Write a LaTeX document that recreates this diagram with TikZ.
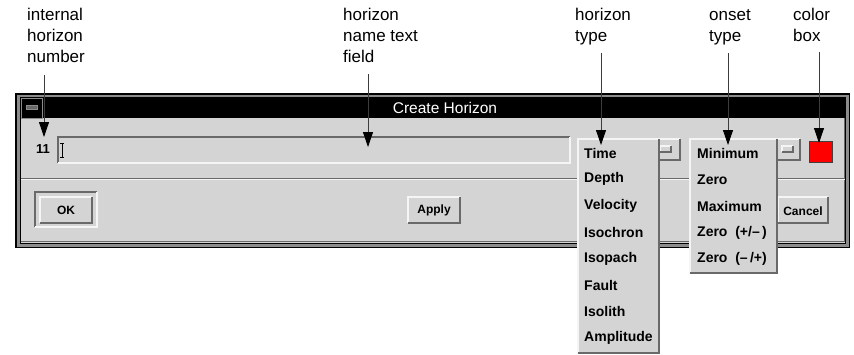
\documentclass[tikz,border=0pt]{standalone}
\usepackage{fontspec}
\setmainfont{Liberation Sans}
\usetikzlibrary{arrows.meta}
\definecolor{guibg}{RGB}{212,212,212}
\definecolor{guidark}{RGB}{105,105,105}
\definecolor{guilight}{RGB}{245,245,245}
\definecolor{guiframe}{RGB}{140,140,140}
\definecolor{arrline}{RGB}{60,60,60}
\newcommand{\guibevel}[6]{%
  \fill[guibg] (#1,#2) rectangle (#3,#4);
  \draw[#5,line width=1.5pt] (#1,#4) -- (#1,#2) -- (#3,#2);
  \draw[#6,line width=1.5pt] (#1,#4) -- (#3,#4) -- (#3,#2);}
\begin{document}
\begin{tikzpicture}[x=1pt,y=-1pt,
  lbl/.style={anchor=base west,align=left,inner sep=0pt,font=\fontsize{17}{21}\selectfont},
  menuitem/.style={anchor=west,inner sep=0pt,font=\fontsize{14}{16}\selectfont\bfseries},
  btntext/.style={inner sep=0pt,font=\fontsize{12}{14}\selectfont\bfseries},
  arr/.style={draw=arrline,line width=0.8pt,-{Triangle[length=15pt,width=10pt,black]}}]
\useasboundingbox (0,0) rectangle (854,354);
\fill[white] (0,0) rectangle (854,354);
% window frame
\fill[black] (15,93) rectangle (850,248);
\fill[guiframe] (16.5,94.5) rectangle (848.5,246.5);
\fill[black] (19.5,97) rectangle (846,244);
\fill[guibg] (21,118) rectangle (844.5,242.5);
\draw[guidark,line width=1pt] (21,241.5) -- (844.5,241.5) -- (844.5,118);
% title bar
\fill[black] (21,98) rectangle (845,118);
\draw[guiframe,line width=1pt] (21,98) rectangle (42,118);
\draw[guiframe,fill=guidark,line width=1pt] (26,105) rectangle (37,109);
\node[inner sep=0pt,text=white,font=\fontsize{15.5}{17}\selectfont] (title) at (445,108) {Create Horizon};
% separator
\draw[guidark,line width=1pt] (21,178) -- (844.5,178);
\draw[guilight,line width=1pt] (21,179.5) -- (844.5,179.5);
% number and text field
\node[btntext,font=\fontsize{13}{15}\selectfont\bfseries] (num) at (43,149) {11};
\guibevel{58}{137}{570}{163}{guidark}{guilight}
\draw[black,line width=0.7pt] (62,143) -- (62,157) (60,143) -- (64,143) (60,157) -- (64,157);
\coordinate (field) at (368,147);
% buttons
\guibevel{35}{192}{97}{227}{guidark}{guilight}
\guibevel{40}{197}{92}{223}{guilight}{guidark}
\node[btntext] (ok) at (66,210) {OK};
\guibevel{408}{197}{460}{223}{guilight}{guidark}
\node[btntext] (apply) at (434,210) {Apply};
\guibevel{778}{197}{828}{223}{guilight}{guidark}
\node[btntext] (cancel) at (803,211) {Cancel};
% option menu buttons
\guibevel{600}{139}{680}{160}{guilight}{guidark}
\guibevel{660}{146}{671}{152}{guilight}{guidark}
\guibevel{720}{139}{800}{160}{guilight}{guidark}
\guibevel{782}{146}{793}{152}{guilight}{guidark}
% color box
\draw[fill=red,draw=black!75,line width=1pt] (809,141) rectangle (832,162);
\coordinate (colorbox) at (819,143);
% horizon type menu
\guibevel{578}{139}{659}{353}{guilight}{guidark}
\node[menuitem] (mTime) at (584,153) {Time};
\node[menuitem] (mDepth) at (584,179) {Depth};
\node[menuitem] (mVel) at (584,206) {Velocity};
\node[menuitem] (mIsoc) at (584,232) {Isochron};
\node[menuitem] (mIsop) at (584,259) {Isopach};
\node[menuitem] (mFault) at (584,285) {Fault};
\node[menuitem] (mIsol) at (584,311) {Isolith};
\node[menuitem] (mAmp) at (584,338) {Amplitude};
% onset type menu
\guibevel{690}{139}{777}{273}{guilight}{guidark}
\node[menuitem] (oMin) at (697,153) {Minimum};
\node[menuitem] (oZero) at (697,180) {Zero};
\node[menuitem] (oMax) at (697,206) {Maximum};
\node[menuitem] (oZpm) at (697,233) {Zero\ \ (+/--\,)};
\node[menuitem] (oZmp) at (697,259) {Zero\ \ (--\,/+)};
% labels
\node[lbl] (L1) at (27,62.7) {internal\\horizon\\number};
\node[lbl] (L2) at (343,62.7) {horizon\\name text\\field};
\node[lbl] (L3) at (575,41.7) {horizon\\type};
\node[lbl] (L4) at (709,41.7) {onset\\type};
\node[lbl] (L5) at (793,41.7) {color\\box};
\coordinate (s1) at (44,75);
\coordinate (s2) at (368,74);
\coordinate (s3) at (601,53);
\coordinate (s4) at (728,53);
\coordinate (s5) at (819,52);
\coordinate (t1) at (44,137);
\coordinate (t3) at (601,145);
\coordinate (t4) at (728,145);
\draw[arr] (s1) -- (t1);
\draw[arr] (s2) -- (field);
\draw[arr] (s3) -- (t3);
\draw[arr] (s4) -- (t4);
\draw[arr] (s5) -- (colorbox);
\end{tikzpicture}
\end{document}
